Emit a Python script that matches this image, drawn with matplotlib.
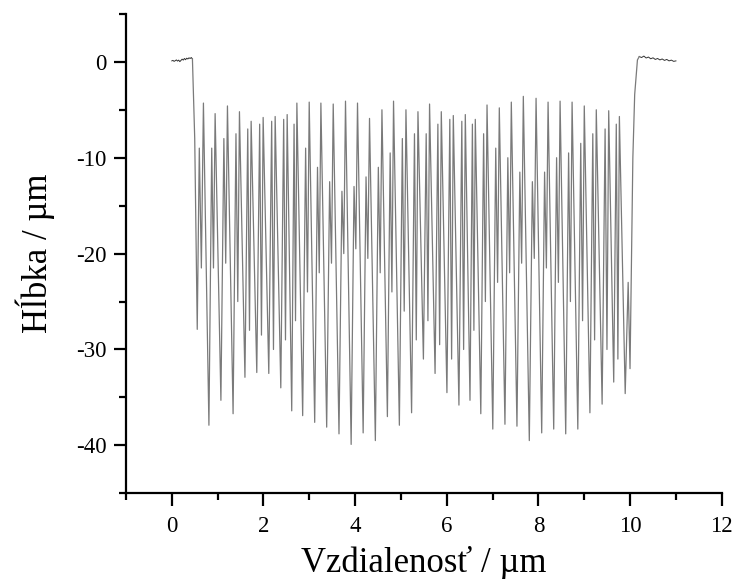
import numpy as np
import matplotlib
matplotlib.use("Agg")
import matplotlib.pyplot as plt
from matplotlib.ticker import MultipleLocator

plt.rcParams['font.family'] = ['Liberation Serif', 'DejaVu Serif']
plt.rcParams['axes.unicode_minus'] = False

# ---- data (µm) ----
# left flat surface
left_x = [0.00, 0.025, 0.05, 0.075, 0.10, 0.125, 0.15, 0.175, 0.20, 0.225, 0.25,
          0.275, 0.30, 0.325, 0.35, 0.375, 0.40, 0.425, 0.45]
left_y = [0.10, 0.15, 0.05, 0.12, 0.20, 0.08, 0.18, 0.02, 0.15, 0.28, 0.18,
          0.35, 0.22, 0.38, 0.30, 0.42, 0.35, 0.45, 0.30]
# lead-in into the grating
lead_x = [0.50, 0.555, 0.60, 0.645]
lead_y = [-8.0, -27.9, -9.0, -21.5]

# positions of the high peaks of each period
peak_x = [0.690, 0.945, 1.214, 1.476, 1.731, 1.993, 2.255, 2.517, 2.729, 2.998,
          3.253, 3.522, 3.790, 4.052, 4.314, 4.585, 4.838, 5.109, 5.371, 5.624,
          5.880, 6.142, 6.404, 6.622, 6.878, 7.146, 7.408, 7.670, 7.948, 8.210,
          8.472, 8.734, 9.000, 9.262, 9.533, 9.766]
# high peaks
peak_y = [-4.3, -5.4, -4.6, -5.2, -6.2, -5.8, -5.7, -5.5, -4.3, -4.2,
          -4.3, -4.4, -4.1, -4.3, -5.9, -5.0, -4.1, -5.0, -5.2, -4.4,
          -5.2, -5.6, -5.5, -6.0, -4.5, -4.8, -4.2, -3.6, -3.8, -4.2,
          -4.1, -4.2, -4.6, -5.0, -5.1, -5.7]
# deep troughs following each high peak
deep_y = [-37.9, -35.3, -36.7, -32.9, -32.4, -32.5, -34.0, -36.4, -36.9, -37.6,
          -38.1, -38.8, -39.9, -38.7, -39.5, -37.0, -37.9, -36.6, -31.0, -32.5,
          -34.5, -35.8, -35.3, -36.7, -38.3, -37.8, -38.0, -39.5, -38.7, -38.3,
          -38.8, -38.3, -36.6, -35.7, -33.4, -34.6]
# secondary peaks
mid_peak_y = [-9.0, -8.0, -7.5, -7.0, -6.5, -6.2, -6.0, -6.5, -9.0, -11.0,
              -12.5, -13.5, -13.0, -12.0, -11.0, -9.5, -8.0, -7.5, -7.5, -6.5,
              -6.0, -6.2, -6.5, -7.5, -9.0, -10.0, -11.5, -12.5, -11.5, -10.0,
              -9.5, -8.5, -7.5, -7.0, -6.5, -23.0]
# secondary troughs
mid_trough_y = [-21.5, -21.0, -25.0, -28.0, -28.5, -30.0, -29.0, -27.0, -24.0, -22.0,
                -21.0, -20.0, -19.5, -20.5, -22.0, -24.0, -26.0, -29.0, -27.0, -29.5,
                -31.0, -30.0, -28.0, -25.0, -23.0, -22.0, -21.0, -20.5, -21.5, -23.0,
                -25.0, -27.0, -29.0, -30.0, -31.0, -32.0]
# rise back to the right flat surface
tail_x = [10.06, 10.10, 10.16]
tail_y = [-10.0, -3.4, 0.2]
right_x = [10.20, 10.25, 10.30, 10.35, 10.40, 10.45, 10.50, 10.55, 10.60, 10.65,
           10.70, 10.75, 10.80, 10.85, 10.90, 10.95, 11.00]
right_y = [0.55, 0.45, 0.60, 0.40, 0.50, 0.32, 0.42, 0.25, 0.35, 0.20,
           0.30, 0.15, 0.25, 0.10, 0.18, 0.05, 0.10]

# ---- assemble grating profile ----
gx, gy = [], []
n = len(peak_x)
for k in range(n):
    p = peak_x[k]
    d = (peak_x[k + 1] - p) if k + 1 < n else 0.27
    gx += [p, p + 0.47 * d, p + 0.71 * d, p + 0.86 * d]
    gy += [peak_y[k], deep_y[k], mid_peak_y[k], mid_trough_y[k]]

fig = plt.figure(figsize=(7.38, 5.79), dpi=100)
ax = fig.add_axes([0.1707, 0.148, 0.8073, 0.828])

ax.plot(left_x, left_y, color='#333333', lw=0.7)
ax.plot(right_x, right_y, color='#333333', lw=0.7)
ax.plot([left_x[-1]] + lead_x + gx + tail_x + [right_x[0]],
        [left_y[-1]] + lead_y + gy + tail_y + [right_y[0]],
        color='#7a7a7a', lw=0.9, solid_joinstyle='round')

ax.set_xlim(-1, 12)
ax.set_ylim(-45, 5)
ax.xaxis.set_major_locator(MultipleLocator(2))
ax.xaxis.set_minor_locator(MultipleLocator(1))
ax.yaxis.set_major_locator(MultipleLocator(10))
ax.yaxis.set_minor_locator(MultipleLocator(5))
for s in ['top', 'right']:
    ax.spines[s].set_visible(False)
for s in ['left', 'bottom']:
    ax.spines[s].set_linewidth(1.6)
ax.tick_params(which='major', direction='out', length=9, width=1.6, labelsize=16.5)
ax.tick_params(which='minor', direction='out', length=5, width=1.6)
ax.tick_params(axis='x', which='major', pad=7)
ax.tick_params(axis='y', which='major', pad=5)

ax.set_xlabel('Vzdialenosť / µm', fontsize=25, labelpad=7)
ax.set_ylabel('Hĺbka / µm', fontsize=25, labelpad=15)

fig.savefig('out.png', dpi=100)
